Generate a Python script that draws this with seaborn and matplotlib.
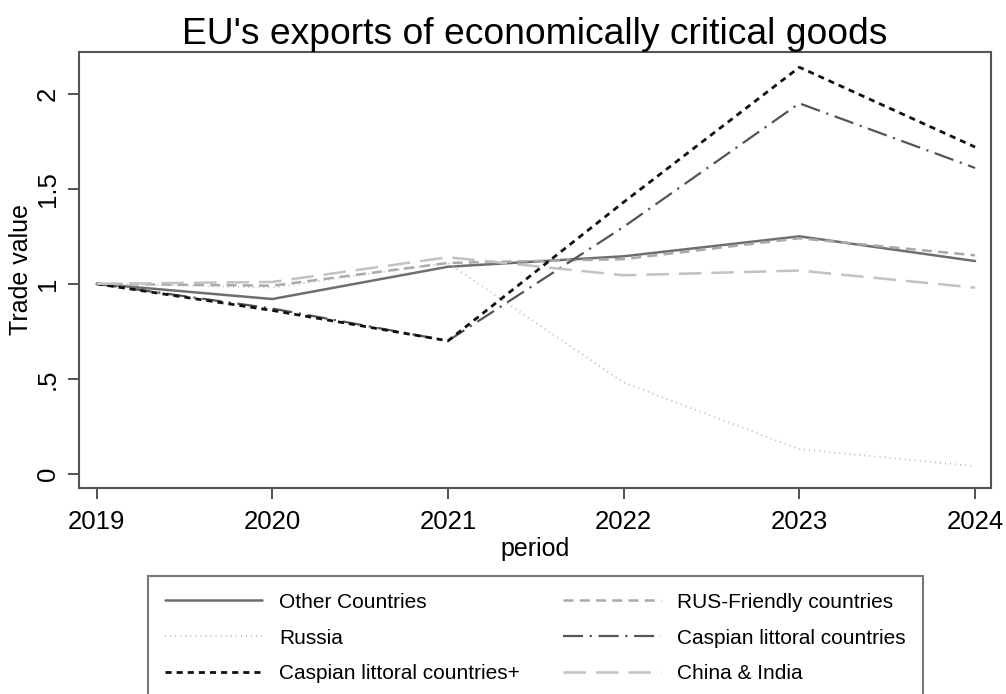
import pandas as pd
import seaborn as sns
import matplotlib.pyplot as plt

years = [2019, 2020, 2021, 2022, 2023, 2024]

other_countries = [1.0, 0.92, 1.09, 1.145, 1.25, 1.12]
rus_friendly = [1.0, 0.99, 1.11, 1.13, 1.24, 1.15]
russia = [1.0, 0.98, 1.11, 0.48, 0.13, 0.04]
caspian = [1.0, 0.87, 0.70, 1.30, 1.95, 1.61]
caspian_plus = [1.0, 0.86, 0.70, 1.43, 2.14, 1.72]
china_india = [1.0, 1.01, 1.14, 1.045, 1.07, 0.98]

groups = ["Other Countries", "RUS-Friendly countries", "Russia",
          "Caspian littoral countries", "Caspian littoral countries+",
          "China & India"]
series = [other_countries, rus_friendly, russia, caspian, caspian_plus, china_india]

rows = []
for g, vals in zip(groups, series):
    for y, v in zip(years, vals):
        rows.append({"period": y, "Trade value": v, "group": g})
data = pd.DataFrame(rows)

palette = {
    "Other Countries": "#6e6e6e",
    "RUS-Friendly countries": "#a9a9a9",
    "Russia": "#bdbdbd",
    "Caspian littoral countries": "#545454",
    "Caspian littoral countries+": "#111111",
    "China & India": "#c2c2c2",
}
dashes = {
    "Other Countries": "",
    "RUS-Friendly countries": (4, 2.5),
    "Russia": (0.6, 2.2),
    "Caspian littoral countries": (9, 3, 1, 3),
    "Caspian littoral countries+": (2.2, 1.8),
    "China & India": (9, 4),
}
widths = {
    "Other Countries": 1.8,
    "RUS-Friendly countries": 1.8,
    "Russia": 1.3,
    "Caspian littoral countries": 1.6,
    "Caspian littoral countries+": 2.0,
    "China & India": 1.8,
}

sns.set_style("white")
plt.rcParams['font.family'] = ['Liberation Sans', 'DejaVu Sans']
plt.rcParams['text.color'] = 'black'
plt.rcParams['axes.labelcolor'] = 'black'
plt.rcParams['xtick.labelcolor'] = 'black'
plt.rcParams['ytick.labelcolor'] = 'black'

fig = plt.figure(figsize=(10.06, 6.94), dpi=100)
ax = fig.add_axes([0.0785, 0.297, 0.9065, 0.628])

sns.lineplot(data=data, x="period", y="Trade value", hue="group", style="group",
             palette=palette, dashes=dashes, hue_order=groups, style_order=groups,
             ax=ax, legend=False)
for line, g in zip(ax.get_lines(), groups):
    line.set_linewidth(widths[g])

ax.set_xlim(2018.9, 2024.09)
ax.set_ylim(-0.074, 2.22)
ax.set_xticks(years)
ax.set_xticklabels([str(y) for y in years], fontsize=18.5)
ax.set_yticks([0, 0.5, 1, 1.5, 2])
ax.set_yticklabels(["0", ".5", "1", "1.5", "2"], fontsize=18.5, rotation=90, va="center")
ax.tick_params(axis="both", direction="out", length=8, width=1.3, color="#444444",
               bottom=True, left=True, pad=8)
ax.tick_params(axis="y", pad=6)
for s in ax.spines.values():
    s.set_color("#555555")
    s.set_linewidth(1.5)
ax.set_xlabel("period", fontsize=18, labelpad=2)
ax.set_ylabel("Trade value", fontsize=18, labelpad=2)
ax.set_title("EU's exports of economically critical goods", fontsize=26.8, pad=6)

handles = []
for g in groups:
    h, = ax.plot([], [], color=palette[g], lw=widths[g],
                 dashes=dashes[g] if dashes[g] else (None, None), label=g)
    if not dashes[g]:
        h.set_linestyle("-")
    handles.append(h)
order = [0, 2, 4, 1, 3, 5]
leg = fig.legend([handles[i] for i in order], [groups[i] for i in order],
                 loc="upper left", bbox_to_anchor=(0.147, 0.0, 0.77, 0.17),
                 mode="expand", ncol=2, fontsize=15, handlelength=4.7,
                 handletextpad=0.8, labelspacing=0.81, borderpad=0.8,
                 frameon=True, fancybox=False, borderaxespad=0)
leg.get_frame().set_edgecolor("#555555")
leg.get_frame().set_linewidth(1.5)

plt.savefig("out.png", dpi=100)
